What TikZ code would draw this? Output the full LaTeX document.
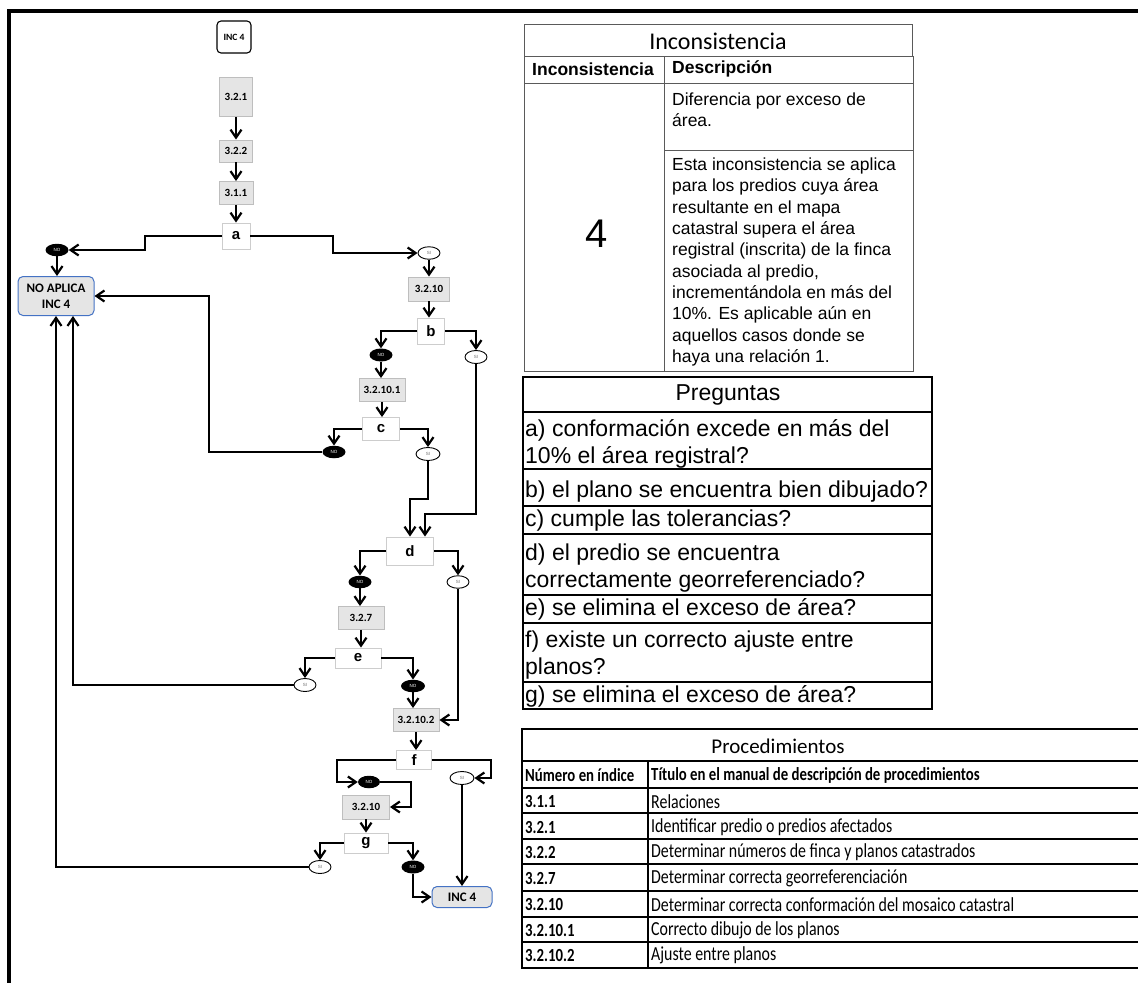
\documentclass[tikz,border=0pt]{standalone}
\usepackage{fontspec}
\setmainfont{Liberation Sans}
\newfontfamily\calfont{Carlito}
\newfontfamily\calcond[FakeStretch=0.8]{Carlito}
\usetikzlibrary{arrows.meta,shapes.geometric}
\definecolor{pfill}{RGB}{229,229,229}
\definecolor{pdraw}{RGB}{190,190,190}
\definecolor{ddraw}{RGB}{205,205,205}
\definecolor{tblue}{RGB}{68,114,196}
\definecolor{sigray}{RGB}{110,110,110}
\definecolor{tgray}{RGB}{90,90,90}
\begin{document}
\begin{tikzpicture}[x=1pt,y=-1pt,
  wh/.style 2 args={minimum width=#1pt,minimum height=#2pt},
  proc/.style={draw=pdraw,fill=pfill,line width=0.9pt,inner sep=0pt,font=\calfont\bfseries\fontsize{11}{13}\selectfont},
  dec/.style={draw=ddraw,fill=white,line width=0.9pt,inner sep=0pt,font=\bfseries\fontsize{15}{17}\selectfont},
  noell/.style={ellipse,fill=black,text=white,inner sep=0pt,minimum width=23pt,minimum height=12.5pt,font=\fontsize{4.5}{5}\selectfont},
  siell/.style={ellipse,draw=black,fill=white,line width=0.9pt,text=sigray,inner sep=0pt,minimum width=22pt,minimum height=12.5pt,font=\fontsize{4.5}{5}\selectfont},
  term/.style={rounded corners=5pt,draw=tblue,fill=pfill,line width=1pt,inner sep=0pt,align=center,font=\calfont\bfseries\fontsize{13}{15.7}\selectfont},
  conn/.style={line width=2pt,-{Straight Barb[length=8pt,width=11pt,line width=2.2pt]}},
  tblA/.style={draw=tgray,line width=0.9pt},
  tblB/.style={draw=black,line width=1.3pt},
  tblC/.style={draw=black,line width=1.5pt},
  arialT/.style={inner sep=2pt,font=\fontsize{17.5}{21.3}\selectfont},
  pregT/.style={inner sep=2pt,anchor=west,font=\fontsize{23}{27}\selectfont},
  procT/.style={inner sep=2pt,anchor=west,font=\calcond\fontsize{19.9}{22}\selectfont},
  procB/.style={inner sep=2pt,anchor=west,font=\calcond\bfseries\fontsize{18.5}{22}\selectfont}
]
\useasboundingbox (0,0) rectangle (1138,983);
% frame
\fill[black] (7,8.5) rectangle (1138,12.5);
\fill[black] (7,8.5) rectangle (11,983);

% ---------- flowchart nodes ----------
\node[rounded corners=4pt,draw=black,fill=white,line width=1.1pt,inner sep=0pt,wh={34}{32},font=\calfont\bfseries\fontsize{9.6}{11}\selectfont] (inctop) at (234,37) {INC 4};
\node[proc,wh={33}{39}] (p321) at (236,97) {3.2.1};
\node[proc,wh={33}{22}] (p322) at (236,151) {3.2.2};
\node[proc,wh={34}{23}] (p311) at (236,193) {3.1.1};
\node[dec,wh={28}{26}] (a) at (236,236) {a};
\node[noell] (noA) at (57,250) {NO};
\node[siell] (siA) at (429,253) {SI};
\node[term,wh={76}{39}] (noap) at (56,296) {NO APLICA\\INC 4};
\node[proc,wh={41}{24}] (p3210) at (429,289) {3.2.10};
\node[dec,wh={27}{26}] (b) at (431,331) {b};
\node[noell,minimum height=13pt] (noB) at (381,355) {NO};
\node[siell,minimum height=13pt] (siB) at (476,357) {SI};
\node[proc,wh={46}{23}] (p32101) at (382,390) {3.2.10.1};
\node[dec,wh={37}{23}] (c) at (381,429) {c};
\node[noell] (noC) at (334,452) {NO};
\node[siell,minimum width=24pt,minimum height=13pt] (siC) at (428,454) {SI};
\node[dec,wh={47}{28}] (d) at (410,551) {d};
\node[noell] (noD) at (360,582) {NO};
\node[siell] (siD) at (458,582) {SI};
\node[proc,wh={46}{23}] (p327) at (361,618) {3.2.7};
\node[dec,wh={46}{20}] (e) at (358,658) {e};
\node[siell,minimum height=13pt] (siE) at (305,685) {SI};
\node[noell,minimum width=24pt] (noE) at (413,686) {NO};
\node[proc,wh={46}{23}] (p32102) at (416,720) {3.2.10.2};
\node[dec,wh={35}{19}] (f) at (414,760) {f};
\node[noell,minimum width=22pt] (noF) at (369,782) {NO};
\node[siell,minimum width=24pt,minimum height=13pt] (siF) at (462,778) {SI};
\node[proc,wh={47}{24}] (p3210b) at (366,807) {3.2.10};
\node[dec,wh={44}{20}] (g) at (366,843) {g};
\node[siell,minimum height=13pt] (siG) at (320,867) {SI};
\node[noell,minimum height=13pt] (noG) at (413,867) {NO};
\node[term,wh={60}{21}] (incend) at (462,897) {INC 4};

% ---------- connectors ----------
\draw[conn] (p321.south) -- (p322.north);
\draw[conn] (p322.south) -- (p311.north);
\draw[conn] (p311.south) -- (a.north);
\draw[conn] (a.west) -- (145,236) |- (noA.east);
\draw[conn] (a.east) -- (333,236) |- (siA.west);
\draw[conn] (noA.south) -- (noA.south |- noap.north);
\draw[conn] (siA.south) -- (p3210.north);
\draw[conn] (p3210.south) -- (p3210.south |- b.north);
\draw[conn] (b.west) -| (noB.north);
\draw[conn] (b.east) -| (siB.north);
\draw[conn] (noB.south) -- (noB.south |- p32101.north);
\draw[conn] (p32101.south) -- (p32101.south |- c.north);
\draw[conn] (c.west) -| (noC.north);
\draw[conn] (c.east) -| (siC.north);
\draw[conn] (noC.west) -- (209,452) |- (noap.east);
\draw[conn] (siC.south) -- (428,499) -| (d.north);
\draw[conn] (siB.south) -- (476,514) -| ([xshift=15pt]d.north);
\draw[conn] (d.west) -| (noD.north);
\draw[conn] (d.east) -| (siD.north);
\draw[conn] (noD.south) -- (noD.south |- p327.north);
\draw[conn] (p327.south) -- (p327.south |- e.north);
\draw[conn] (e.west) -| (siE.north);
\draw[conn] (e.east) -| (noE.north);
\draw[conn] (siE.west) -| ([xshift=17pt]noap.south);
\draw[conn] (noE.south) -- (noE.south |- p32102.north);
\draw[conn] (siD.south) |- (p32102.east);
\draw[conn] (p32102.south) -- (p32102.south |- f.north);
\draw[conn] (f.west) -- (337,760) |- (noF.west);
\draw[conn] (f.east) -- (491,760) |- (siF.east);
\draw[conn] (noF.east) -- (411,782) |- (p3210b.east);
\draw[conn] (siF.south) -- (incend.north);
\draw[conn] (p3210b.south) -- (g.north);
\draw[conn] (g.west) -| (siG.north);
\draw[conn] (g.east) -| (noG.north);
\draw[conn] (siG.west) -| (noap.south);
\draw[conn] (noG.south) |- (incend.west);

% ---------- table Inconsistencia ----------
\draw[tblA] (524,24) rectangle (912,56);
\draw[tblA] (524,56) rectangle (913,371);
\draw[tblA] (524,83) -- (913,83);
\draw[tblA] (664,56) -- (664,371);
\draw[tblA] (664,150) -- (913,150);
\node[font=\calfont\fontsize{24}{28}\selectfont] (t1title) at (718,41) {Inconsistencia};
\node[font=\bfseries\fontsize{17.5}{21}\selectfont] (t1h1) at (593,69) {Inconsistencia};
\node[anchor=west,inner sep=2pt,font=\bfseries\fontsize{17.5}{21}\selectfont] (t1h2) at (670,69) {Descripción};
\node[font=\fontsize{40}{46}\selectfont] (t1num) at (597,234) {4};
\node[arialT,anchor=west,align=left] (t1d1) at (670,110) {Diferencia por exceso de\\área.};
\node[arialT,anchor=west,align=left] (t1d2) at (670,262) {Esta inconsistencia se aplica\\para los predios cuya área\\resultante en el mapa\\catastral supera el área\\registral (inscrita) de la finca\\asociada al predio,\\incrementándola en más del\\10\%. Es aplicable aún en\\aquellos casos donde se\\haya una relación 1.};

% ---------- table Preguntas ----------
\draw[tblB] (523,377) rectangle (932,709);
\foreach \yy in {412,469,506,534,595,623,682} {\draw[tblB] (523,\yy) -- (932,\yy);}
\node[font=\fontsize{23}{27}\selectfont] (t2title) at (728,395) {Preguntas};
\node[pregT,align=left] (qa) at (523,443.5) {a) conformación excede en más del\\10\% el área registral?};
\node[pregT] (qb) at (523,492) {b) el plano se encuentra bien dibujado?};
\node[pregT] (qc) at (523,521) {c) cumple las tolerancias?};
\node[pregT,align=left] (qd) at (523,568) {d) el predio se encuentra\\correctamente georreferenciado?};
\node[pregT] (qe) at (523,609) {e) se elimina el exceso de área?};
\node[pregT,align=left] (qf) at (523,655) {f) existe un correcto ajuste entre\\planos?};
\node[pregT] (qg) at (523,696) {g) se elimina el exceso de área?};

% ---------- table Procedimientos ----------
\draw[tblC] (522,729) rectangle (1145,968);
\foreach \yy in {761,788,813,839,864,891,917,942} {\draw[tblC] (522,\yy) -- (1145,\yy);}
\draw[tblC] (648,761) -- (648,968);
\node[font=\calfont\fontsize{21}{24}\selectfont] (t3title) at (778,746) {Procedimientos};
\node[procB] (h1) at (523,775) {Número en índice};
\node[procB] (h2) at (649,775) {Título en el manual de descripción de procedimientos};
\node[procB] (r1a) at (523,801.5) {3.1.1};   \node[procT] (r1b) at (649,801.5) {Relaciones};
\node[procB] (r2a) at (523,827) {3.2.1};     \node[procT] (r2b) at (649,827) {Identificar predio o predios afectados};
\node[procB] (r3a) at (523,852.5) {3.2.2};   \node[procT] (r3b) at (649,852.5) {Determinar números de finca y planos catastrados};
\node[procB] (r4a) at (523,878.5) {3.2.7};   \node[procT] (r4b) at (649,878.5) {Determinar correcta georreferenciación};
\node[procB] (r5a) at (523,904.5) {3.2.10};  \node[procT] (r5b) at (649,904.5) {Determinar correcta conformación del mosaico catastral};
\node[procB] (r6a) at (523,930) {3.2.10.1};  \node[procT] (r6b) at (649,930) {Correcto dibujo de los planos};
\node[procB] (r7a) at (523,955.5) {3.2.10.2};\node[procT] (r7b) at (649,955.5) {Ajuste entre planos};
\end{tikzpicture}
\end{document}
